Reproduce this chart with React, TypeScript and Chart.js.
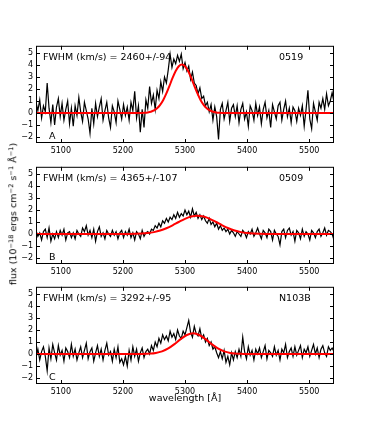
import React, { useEffect, useRef } from "react";
import { Chart, registerables } from "chart.js";

Chart.register(...registerables);

// ---- axes ----
const X_MIN = 5060;
const X_MAX = 5540;
const Y_MIN = -2.5;
const Y_MAX = 5.6;
const xTicks = [5100, 5200, 5300, 5400, 5500];
const yTicks = [-2, -1, 0, 1, 2, 3, 4, 5];

// ---- spectra: sampled every WAVE_STEP Å starting at WAVE_START ----
const WAVE_START = 5060;
const WAVE_STEP = 3;

const fluxA = [
  0.9, 0.2, 1.1, -0.4, 0.6, 0.1, 2.5, 0.4, -0.8, 0.7,
  -1.0, 0.5, 1.2, -0.3, 0.8, -0.6, 0.3, 1.0, -0.9, 0.4,
  -1.1, 0.6, -0.2, 1.3, 0.1, -0.7, 0.9, 0.2, -0.5, -1.7,
  0.4, -0.9, 0.8, -0.3, 0.5, 1.2, -0.6, 0.2, 0.9, -0.4,
  -1.2, 0.6, 0.1, -0.8, 1.0, 0.3, -0.5, 0.7, -0.2, 0.5,
  -0.6, 0.9, 0.2, 1.8, -0.4, 0.6, -1.6, 0.3, -1.2, 1.1,
  0.4, 2.2, 0.8, 1.5, 0.3, 1.9, 1.2, 2.6, 1.8, 3.0,
  2.5, 3.6, 4.9, 3.8, 4.5, 4.1, 4.8, 4.3, 4.9, 3.7,
  4.2, 3.5, 3.9, 2.8, 3.4, 2.5, 2.3, 1.6, 2.1, 1.2,
  1.4, 0.6, 0.9, 0.1, 0.7, -0.6, 0.5, -0.3, -2.2, 0.3,
  0.8, -0.5, 0.2, 0.9, -0.7, 0.4, 0.7, -0.3, 0.6, -0.8,
  0.3, 0.8, -0.5, 0.1, -1.1, 0.6, 0.2, -0.6, 0.8, -0.2,
  0.5, -0.9, 0.3, 0.9, -0.4, 0.2, -1.2, 0.7, 0.1, -0.5,
  0.6, 0.9, -0.6, 0.3, 1.0, -0.3, 0.4, -0.8, 0.5, 0.2,
  -0.7, 0.4, -0.2, 0.6, -1.1, 0.3, 1.9, -0.5, -1.3, 0.8,
  0.1, -0.6, 0.9, 0.4, 1.2, 0.3, 1.6, 0.6, 1.0, 1.7,
  0.9,
];

const fluxB = [
  0.3, -0.2, 0.1, -0.5, 0.2, 0.4, -0.3, 0.5, -0.6, 0.0,
  -0.4, 0.2, -0.3, 0.3, -0.1, 0.4, -0.5, 0.1, 0.2, -0.3,
  0.1, -0.4, 0.3, 0.0, -0.2, 0.5, 0.2, 0.7, -0.1, 0.3,
  -0.3, 0.4, -0.6, 0.2, 0.6, -0.2, 0.1, -0.4, 0.3, 0.0,
  -0.2, 0.3, -0.1, 0.2, -0.4, 0.1, 0.3, -0.3, 0.2, -0.1,
  0.4, -0.3, 0.1, -0.5, 0.2, 0.0, -0.4, 0.3, -0.2, 0.1,
  0.2, 0.0, 0.4, 0.3, 0.7, 0.5, 0.9, 0.6, 1.1, 0.9,
  1.3, 1.0, 1.4, 1.2, 1.6, 1.3, 1.8, 1.4, 1.7, 1.5,
  2.0, 1.6, 1.9, 1.4, 2.1, 1.5, 1.8, 1.3, 1.6, 1.2,
  1.5, 1.1, 0.9, 1.3, 0.8, 1.0, 0.6, 0.9, 0.4, 0.7,
  0.3, 0.5, 0.2, 0.4, 0.0, 0.3, 0.1, -0.2, 0.2, 0.0,
  -0.2, 0.3, 0.1, -0.3, 0.2, 0.0, 0.4, -0.2, 0.1, 0.5,
  0.0, -0.4, 0.3, 0.1, -0.3, 0.4, 0.2, -0.5, 0.3, 0.0,
  -0.2, -0.9, 0.2, 0.4, -0.3, 0.3, 0.5, -0.1, 0.2, -0.6,
  0.3, 0.1, -0.4, 0.4, -0.2, 0.2, 0.0, -0.5, 0.3, 0.1,
  -0.3, 0.2, 0.4, -0.2, 0.1, 0.5, -0.1, 0.3, 0.2, 0.0,
  -0.5,
];

const fluxC = [
  -0.3, 0.4, -0.5, 0.2, 0.6, -0.2, -1.4, 0.5, -0.4, 0.8,
  0.1, -0.5, 0.7, -0.1, 0.3, -0.6, 0.5, 0.2, -0.3, 0.8,
  -0.2, 0.4, -0.5, 0.1, 0.6, -0.3, 0.3, 0.9, -0.4, 0.2,
  0.5, -0.6, 0.1, 0.7, -0.2, 0.4, -0.5, 0.3, 0.9, -0.1,
  0.2, -0.6, 0.4, -0.3, 0.6, -0.7, -0.4, -0.9, -0.2, -1.0,
  0.3, -0.5, 0.6, -0.2, 0.4, -0.6, 0.1, 0.5, -0.3, 0.2,
  0.4, 0.0, 0.7, 0.3, 1.0, 0.6, 1.3, 0.9, 1.6, 1.2,
  1.5, 1.1, 1.9, 1.4, 1.7, 1.2, 2.0, 1.5, 1.3, 1.9,
  1.6, 2.2, 2.8, 1.8, 1.4, 2.3, 1.7, 1.5, 2.1, 1.3,
  1.6, 1.0, 1.3, 0.7, 1.0, 0.4, 0.6, 0.1, -0.3, 0.2,
  -0.4, 0.3, -0.7, -0.2, -0.9, 0.1, -0.5, 0.2, -0.3, 0.4,
  -0.2, 1.4, 0.2, -0.4, 0.6, -0.1, 0.3, -0.5, 0.4, 0.0,
  0.5, -0.3, 0.2, 0.7, -0.4, 0.3, 0.1, -0.2, 0.6, -0.1,
  0.3, -0.5, 0.4, 0.1, 0.8, -0.3, 0.2, 0.5, -0.2, 0.6,
  -0.1, 0.3, 0.7, -0.3, 0.4, 0.1, 0.6, -0.2, 0.3, 0.8,
  0.0, 0.5, -0.3, 0.4, 0.7, 0.1, -0.2, 0.6, 0.3, 0.5,
  0.2,
];

// ---- fitted profiles ----
const fitAWave = [
  5060, 5225, 5230, 5235, 5240, 5245, 5250, 5255, 5260, 5265, 5270, 5275, 5280, 5285, 5290,
  5295, 5300, 5305, 5310, 5315, 5320, 5325, 5330, 5335, 5340, 5345, 5350, 5355, 5360, 5365, 5540,
];
const fitAFlux = [
  0, 0.003, 0.008, 0.021, 0.049, 0.105, 0.21, 0.39, 0.68, 1.09, 1.63, 2.26, 2.92, 3.5, 3.9,
  4.05, 3.9, 3.5, 2.92, 2.26, 1.63, 1.09, 0.68, 0.39, 0.21, 0.105, 0.049, 0.021, 0.008, 0.003, 0,
];

const fitBWave = [
  5060, 5200, 5210, 5220, 5230, 5240, 5250, 5260, 5270, 5280, 5290, 5300, 5310, 5320,
  5330, 5340, 5350, 5360, 5370, 5380, 5390, 5400, 5410, 5420, 5430, 5440, 5540,
];
const fitBFlux = [
  0, 0.002, 0.005, 0.015, 0.035, 0.078, 0.156, 0.285, 0.476, 0.722, 1.0, 1.262, 1.451, 1.52,
  1.451, 1.262, 1.0, 0.722, 0.476, 0.285, 0.156, 0.078, 0.035, 0.015, 0.005, 0.002, 0,
];

const fitCWave = [
  5060, 5223, 5233, 5243, 5253, 5263, 5273, 5283, 5293, 5303, 5313, 5323, 5333, 5343,
  5353, 5363, 5373, 5383, 5393, 5403, 5540,
];
const fitCFlux = [
  0, 0.002, 0.009, 0.031, 0.09, 0.222, 0.464, 0.822, 1.239, 1.584, 1.72, 1.584, 1.239, 0.822,
  0.464, 0.222, 0.09, 0.031, 0.009, 0.002, 0,
];

// ---- annotations ----
const fwhmLabels = ["FWHM (km/s) = 2460+/-94", "FWHM (km/s) = 4365+/-107", "FWHM (km/s) = 3292+/-95"];
const objectNames = ["0519", "0509", "N103B"];
const panelLetters = ["A", "B", "C"];

const FONT = '"DejaVu Sans", "Liberation Sans", sans-serif';

const panels = [
  { flux: fluxA, fitWave: fitAWave, fitFlux: fitAFlux, top: 43 },
  { flux: fluxB, fitWave: fitBWave, fitFlux: fitBFlux, top: 164 },
  { flux: fluxC, fitWave: fitCWave, fitFlux: fitCFlux, top: 284 },
];

const PAD_TOP = 5;
const PLOT_H = 100;
const XAXIS_H = 20;
const CANVAS_W = 373;
const CANVAS_H = PAD_TOP + PLOT_H + XAXIS_H;
const PLOT_LEFT = 36;
const PLOT_RIGHT = 334;

const framePlugin = {
  id: "frameTicks",
  afterDatasetsDraw(chart: any, _args: any, opts: any) {
    const { ctx, chartArea: a, scales } = chart;
    ctx.save();
    ctx.strokeStyle = "#000";
    ctx.lineWidth = 1;
    ctx.strokeRect(a.left + 0.5, a.top + 0.5, a.right - a.left - 1, a.bottom - a.top - 1);
    ctx.beginPath();
    for (const v of xTicks) {
      const x = Math.round(scales.x.getPixelForValue(v)) + 0.5;
      ctx.moveTo(x, a.top);
      ctx.lineTo(x, a.top + 4);
      ctx.moveTo(x, a.bottom);
      ctx.lineTo(x, a.bottom - 4);
    }
    for (const v of yTicks) {
      const y = Math.round(scales.y.getPixelForValue(v)) + 0.5;
      ctx.moveTo(a.left, y);
      ctx.lineTo(a.left + 4, y);
      ctx.moveTo(a.right, y);
      ctx.lineTo(a.right - 4, y);
    }
    ctx.stroke();
    ctx.fillStyle = "#000";
    ctx.font = "9.5px " + FONT;
    ctx.textAlign = "left";
    ctx.textBaseline = "alphabetic";
    ctx.fillText(opts.fwhm, a.left + 7, a.top + 14.5);
    ctx.fillText(opts.name, a.left + 243, a.top + 14.5);
    ctx.fillText(opts.letter, a.left + 13, a.bottom - 4);
    ctx.restore();
  },
};

function Panel({ index }: { index: number }) {
  const ref = useRef<HTMLCanvasElement>(null);
  const p = panels[index];
  useEffect(() => {
    if (!ref.current) return;
    const spectrum = p.flux.map((y, i) => ({ x: WAVE_START + i * WAVE_STEP, y }));
    const fit = p.fitWave.map((x, i) => ({ x, y: p.fitFlux[i] }));
    const chart = new Chart(ref.current, {
      type: "line",
      data: {
        datasets: [
          {
            data: fit,
            borderColor: "#ff0000",
            borderWidth: 2,
            pointRadius: 0,
            cubicInterpolationMode: "monotone",
            order: 0,
          },
          {
            data: spectrum,
            borderColor: "#000000",
            borderWidth: 1.2,
            pointRadius: 0,
            tension: 0,
            order: 1,
          },
        ],
      },
      options: {
        responsive: false,
        animation: false,
        events: [],
        layout: { padding: { top: PAD_TOP, left: 0, right: CANVAS_W - PLOT_RIGHT, bottom: 0 } },
        plugins: {
          legend: { display: false },
          tooltip: { enabled: false },
          frameTicks: { fwhm: fwhmLabels[index], name: objectNames[index], letter: panelLetters[index] },
        } as any,
        scales: {
          x: {
            type: "linear",
            min: X_MIN,
            max: X_MAX,
            grid: { display: false, drawTicks: false },
            border: { display: false },
            afterBuildTicks: (s: any) => {
              s.ticks = xTicks.map((v) => ({ value: v }));
            },
            afterFit: (s: any) => {
              s.height = XAXIS_H;
            },
            ticks: {
              autoSkip: false,
              maxRotation: 0,
              padding: 3,
              color: "#000",
              font: { family: FONT, size: 8 },
              callback: (v: any) => String(v),
            },
          },
          y: {
            type: "linear",
            min: Y_MIN,
            max: Y_MAX,
            grid: { display: false, drawTicks: false },
            border: { display: false },
            afterBuildTicks: (s: any) => {
              s.ticks = yTicks.map((v) => ({ value: v }));
            },
            afterFit: (s: any) => {
              s.width = PLOT_LEFT;
            },
            ticks: {
              autoSkip: false,
              padding: 3,
              color: "#000",
              font: { family: FONT, size: 8 },
              callback: (v: any) => (Number(v) < 0 ? "\u2212" + Math.abs(Number(v)) : String(v)),
            },
          },
        },
      },
      plugins: [framePlugin as any],
    });
    return () => chart.destroy();
  }, []);
  return (
    <canvas
      ref={ref}
      width={CANVAS_W}
      height={CANVAS_H}
      style={{ position: "absolute", left: 0, top: p.top - PAD_TOP, width: CANVAS_W, height: CANVAS_H }}
    />
  );
}

const supStyle: React.CSSProperties = { fontSize: "0.7em", verticalAlign: "0.45em", lineHeight: 0 };

export default function App() {
  return (
    <div
      style={{
        position: "absolute",
        left: 0,
        top: 0,
        width: 373,
        height: 427,
        background: "#fff",
        overflow: "hidden",
      }}
    >
      <Panel index={0} />
      <Panel index={1} />
      <Panel index={2} />
      <div
        style={{
          position: "absolute",
          left: 13,
          top: 213.5,
          transform: "translate(-50%, -50%) rotate(-90deg)",
          fontFamily: FONT,
          fontSize: "9.5px",
          lineHeight: 1,
          whiteSpace: "nowrap",
          color: "#000",
        }}
      >
        flux (10<sup style={supStyle}>−18</sup> ergs cm<sup style={supStyle}>−2</sup> s<sup style={supStyle}>−1</sup> Å
        <sup style={supStyle}>−1</sup>)
      </div>
      <div
        style={{
          position: "absolute",
          left: 185,
          top: 393,
          transform: "translateX(-50%)",
          fontFamily: FONT,
          fontSize: "9.5px",
          lineHeight: 1,
          whiteSpace: "nowrap",
          color: "#000",
        }}
      >
        wavelength [Å]
      </div>
    </div>
  );
}
